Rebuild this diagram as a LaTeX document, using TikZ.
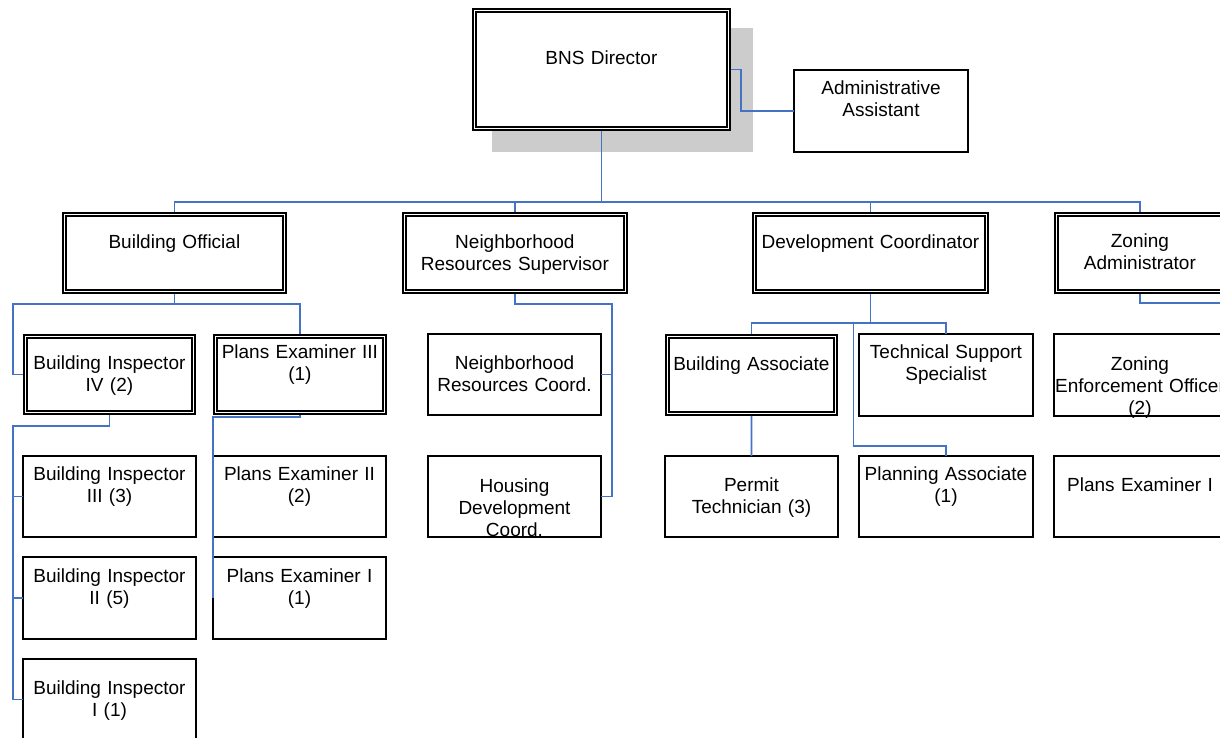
\documentclass[tikz,border=0pt]{standalone}
\usepackage{fontspec}
\newfontfamily\jobfont{Liberation Sans}
\usetikzlibrary{calc}
\definecolor{linkblue}{RGB}{68,114,196}
\definecolor{shadowgray}{RGB}{204,204,204}

\begin{document}
\begin{tikzpicture}[x=1pt, y=-1pt,
  job/.style={draw, line width=1.5pt, fill=white, anchor=north west, inner sep=0pt, outer sep=0pt, align=center, font={\jobfont\fontsize{19pt}{22pt}\selectfont}, text width=173pt},
  jobhead/.style={job, double, line width=1.5pt, double distance=1.8pt, outer sep=2.4pt},
  link/.style={linkblue, line width=1.7pt}]
\useasboundingbox (0,0) rectangle (1220,737);
\fill[shadowgray] (492,28) rectangle (753,152);

\node[jobhead, text width=254pt, text height=54pt, text depth=64pt] (dir) at (472,8) {BNS Director};
\node[job, text width=174pt, text height=24pt, text depth=58pt] (aa) at (794,70) {Administrative\\Assistant};

\node[jobhead, text width=220pt, text height=34pt, text depth=43pt] (bo) at (62,212) {Building Official};
\node[jobhead, text width=221pt, text height=34pt, text depth=43pt] (nrs) at (402,212) {Neighborhood\\Resources Supervisor};
\node[jobhead, text width=232pt, text height=34pt, text depth=43pt] (dc) at (752,212) {Development Coordinator};
\node[jobhead, text width=167pt, text height=33pt, text depth=44pt] (za) at (1054,212) {Zoning\\Administrator};

\node[jobhead, text width=168pt, text height=33pt, text depth=43pt] (bi4) at (23,334) {Building Inspector\\IV (2)};
\node[job, text height=24pt, text depth=57pt] (bi3) at (23,456) {Building Inspector\\III (3)};
\node[job, text height=25pt, text depth=57pt] (bi2) at (23,557) {Building Inspector\\II (5)};
\node[job, text height=35pt, text depth=46pt] (bi1) at (23,659) {Building Inspector\\I (1)};

\node[jobhead, text width=169pt, text height=22pt, text depth=54pt] (pe3) at (213,334) {Plans Examiner III\\(1)};
\node[job, text height=24pt, text depth=57pt] (pe2) at (213,456) {Plans Examiner II\\(2)};
\node[job, text height=25pt, text depth=57pt] (pe1) at (213,557) {Plans Examiner I\\(1)};

\node[job, text height=35pt, text depth=46pt] (nrc) at (428,334) {Neighborhood\\Resources Coord.};
\node[job, text height=36pt, text depth=45pt] (hdc) at (428,456) {Housing\\Development\\Coord.};

\node[jobhead, text width=168pt, text height=34pt, text depth=43pt] (ba) at (665,334) {Building Associate};
\node[job, text width=174pt, text height=24pt, text depth=58pt] (tss) at (859,334) {Technical Support\\Specialist};
\node[job, text height=35pt, text depth=46pt] (pt) at (665,456) {Permit\\Technician (3)};
\node[job, text width=174pt, text height=24pt, text depth=57pt] (pa) at (859,456) {Planning Associate\\(1)};

\node[job, text width=172pt, text height=36pt, text depth=46pt] (zeo) at (1054,334) {Zoning\\Enforcement Officer\\(2)};
\node[job, text width=172pt, text height=35pt, text depth=46pt] (pez) at (1054,456) {Plans Examiner I};

\coordinate (bus) at (0,202);
\coordinate (zaout) at (1230,303);
\draw[link] (dir.south) -- (dir.south |- bus);
\draw[link] (bo.north) -- (bo.north |- bus) -- (za.north |- bus) -- (za.north);
\draw[link] (nrs.north) -- (nrs.north |- bus);
\draw[link] (dc.north) -- (dc.north |- bus);
\draw[link] (dir.east) -- ++(10,0) |- (aa.west);

\draw[link] (bo.south) -- ++(0,10) coordinate (boj);
\draw[link] (bi4.west) -- ++(-10,0) |- (boj) -| (pe3.north);
\draw[link] (bi4.south) -- ++(0,11) -| ($(bi1.west)+(-10,0)$) -- (bi1.west);
\draw[link] (bi3.west) -- ++(-10,0);
\draw[link] (bi2.west) -- ++(-10,0);
\draw[link] (pe3.south) -- ++(0,2) -| (pe1.west);

\draw[link] (nrs.south) -- ++(0,10) -| ($(hdc.east)+(11,0)$) -- (hdc.east);
\draw[link] (nrc.east) -- ++(11,0);

\draw[link] (dc.south) -- ++(0,29) coordinate (dcj);
\draw[link] (ba.north) |- (dcj) -| (tss.north);
\draw[link] ($(dcj)+(-17,0)$) |- ($(pa.north)+(0,-10)$) -- (pa.north);
\draw[link] (ba.south) -- (pt.north);

\draw[link] (za.south) |- (zaout);
\end{tikzpicture}
\end{document}
